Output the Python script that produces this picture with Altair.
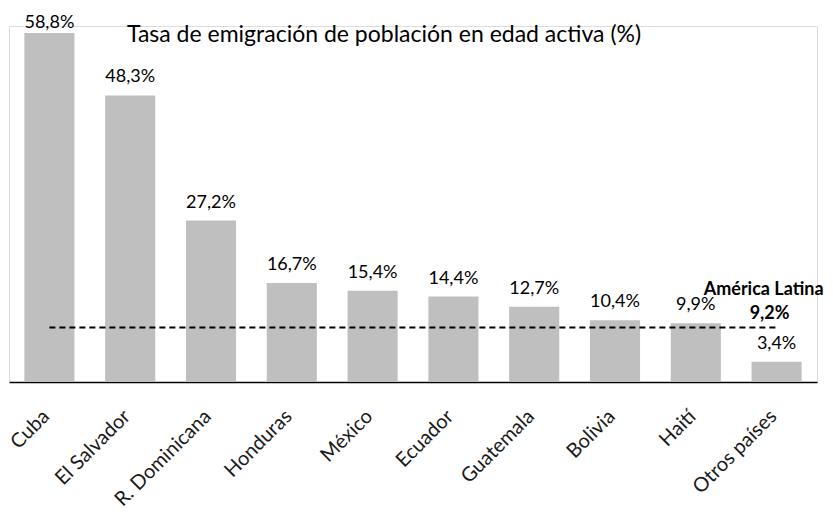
import altair as alt
import pandas as pd

countries = ["Cuba", "El Salvador", "R. Dominicana", "Honduras", "México",
             "Ecuador", "Guatemala", "Bolivia", "Haití", "Otros países"]
rates = [58.8, 48.3, 27.2, 16.7, 15.4, 14.4, 12.7, 10.4, 9.9, 3.4]
latam_avg = 9.2
title_text = "Tasa de emigración de población en edad activa (%)"
latam_label = "América Latina"

FONT = "Lato"
Y_MAX = 60

df = pd.DataFrame({"pais": countries, "tasa": rates})
avg_df = pd.DataFrame({"desde": [countries[0]], "hasta": [countries[-1]],
                       "valor": [latam_avg], "nombre": [latam_label]})

xscale = alt.Scale(domain=countries, paddingInner=0.38, paddingOuter=0.19)
yscale = alt.Scale(domain=[0, Y_MAX], nice=False)

x_enc = alt.X("pais:N", scale=xscale, sort=countries, title=None,
              axis=alt.Axis(labelAngle=-45, labelAlign="right", labelBaseline="middle",
                            labelFont=FONT, labelFontSize=20, labelFontWeight=400,
                            labelColor="#1a1a1a",
                            labelPadding=31, labelOffset=-3, ticks=False,
                            domainColor="#000000", domainWidth=1.5,
                            labelOverlap=False, labelLimit=300))

base = alt.Chart(df)

bars = base.mark_bar(color="#bfbfbf").encode(
    x=x_enc,
    y=alt.Y("tasa:Q", scale=yscale, axis=None),
)

# labels sit above each bar; the tallest one is held inside the frame
labels = base.transform_calculate(
    etiqueta="replace(format(datum.tasa, '.1f'), '.', ',') + '%'",
    ypos=f"min(datum.tasa, {Y_MAX} - 2.5)",
).mark_text(font=FONT, fontSize=18, color="#000000", baseline="alphabetic", dy=-13).encode(
    x=alt.X("pais:N", scale=xscale, sort=countries),
    y=alt.Y("ypos:Q", scale=yscale),
    text="etiqueta:N",
)

avg_base = alt.Chart(avg_df)

rule = avg_base.mark_rule(color="#000000", strokeDash=[6, 4], strokeWidth=2).encode(
    x=alt.X("desde:N", scale=xscale, sort=countries),
    x2="hasta:N",
    y=alt.Y("valor:Q", scale=yscale),
)

avg_name = avg_base.mark_text(font=FONT, fontSize=18, fontWeight="bold", color="#000000",
                              align="right", baseline="middle", dx=47, dy=-37).encode(
    x=alt.X("hasta:N", scale=xscale, sort=countries),
    y=alt.Y("valor:Q", scale=yscale),
    text="nombre:N",
)

avg_val = avg_base.transform_calculate(
    etiqueta="replace(format(datum.valor, '.1f'), '.', ',') + '%'"
).mark_text(font=FONT, fontSize=18, fontWeight="bold", color="#000000",
            align="center", baseline="middle", dx=-7, dy=-13).encode(
    x=alt.X("hasta:N", scale=xscale, sort=countries),
    y=alt.Y("valor:Q", scale=yscale),
    text="etiqueta:N",
)

title = alt.Chart(pd.DataFrame({"t": [title_text]})).mark_text(
    font=FONT, fontSize=23, fontWeight=400, color="#000000", align="center",
    baseline="alphabetic"
).encode(x=alt.value(375), y=alt.value(16), text="t:N")

chart = alt.layer(bars, labels, rule, avg_name, avg_val, title).properties(
    width=808, height=356,
    autosize=alt.AutoSizeParams(type="none"),
    padding={"left": 1, "top": 18, "right": 8, "bottom": 126},
).configure_view(stroke=None).configure(background="#ffffff")

chart.save("out.html", embed_options={"renderer": "svg", "actions": False})
